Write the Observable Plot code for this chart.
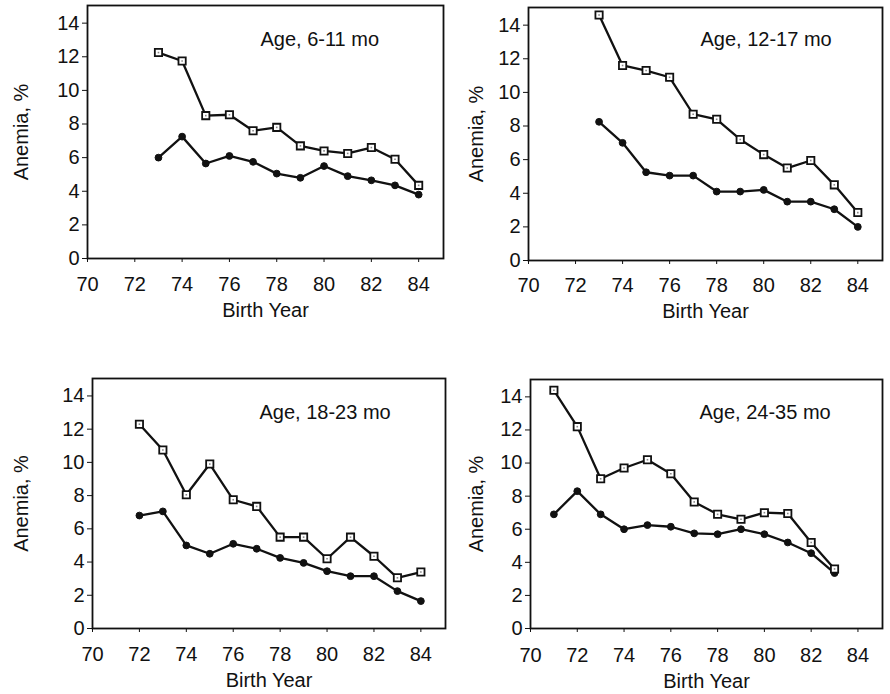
<!DOCTYPE html>
<html><head><meta charset="utf-8">
<script src="https://cdn.jsdelivr.net/npm/d3@7"></script>
<script src="https://cdn.jsdelivr.net/npm/@observablehq/plot@0.6"></script>
<style>
body{margin:0;background:#fff}
#wrap{position:relative;width:890px;height:694px;overflow:hidden;background:#fff}
.p{position:absolute}
</style>
</head><body><div id="wrap"></div>
<script>
// ---- data ----
const ageLabels = ["Age, 6-11 mo", "Age, 12-17 mo", "Age, 18-23 mo", "Age, 24-35 mo"];
const xTickLabels = [70, 72, 74, 76, 78, 80, 82, 84];
const yTickLabels = [0, 2, 4, 6, 8, 10, 12, 14];
const xTitle = "Birth Year";
const yTitle = "Anemia, %";

const years611 = [73, 74, 75, 76, 77, 78, 79, 80, 81, 82, 83, 84];
const open611  = [12.25, 11.75, 8.5, 8.55, 7.6, 7.8, 6.7, 6.4, 6.25, 6.6, 5.9, 4.35];
const solid611 = [6.0, 7.25, 5.65, 6.1, 5.75, 5.05, 4.8, 5.5, 4.9, 4.65, 4.35, 3.8];

const years1217 = [73, 74, 75, 76, 77, 78, 79, 80, 81, 82, 83, 84];
const open1217  = [14.6, 11.6, 11.3, 10.9, 8.7, 8.4, 7.2, 6.3, 5.5, 5.95, 4.5, 2.85];
const solid1217 = [8.25, 7.0, 5.25, 5.05, 5.05, 4.1, 4.1, 4.2, 3.5, 3.5, 3.05, 2.0];

const years1823 = [72, 73, 74, 75, 76, 77, 78, 79, 80, 81, 82, 83, 84];
const open1823  = [12.3, 10.75, 8.05, 9.9, 7.75, 7.35, 5.5, 5.5, 4.2, 5.5, 4.35, 3.05, 3.4];
const solid1823 = [6.8, 7.05, 5.0, 4.5, 5.1, 4.8, 4.25, 3.95, 3.45, 3.15, 3.15, 2.25, 1.65];

const years2435 = [71, 72, 73, 74, 75, 76, 77, 78, 79, 80, 81, 82, 83];
const open2435  = [14.4, 12.2, 9.05, 9.7, 10.2, 9.35, 7.65, 6.9, 6.6, 7.0, 6.95, 5.2, 3.6];
const solid2435 = [6.9, 8.3, 6.9, 6.0, 6.25, 6.15, 5.75, 5.7, 6.0, 5.7, 5.2, 4.55, 3.35];

// ---- layout (not data) ----
const panels = [
  {years: years611,  open: open611,  solid: solid611,  label: ageLabels[0],
   left: 0,   top: 0,   width: 445, height: 330, mL: 87, mR: 2, mT: 5,  mB: 72, yOff: 74, xOff: 58, xPad: 14, tdx: 173, tdy: 34},
  {years: years1217, open: open1217, solid: solid1217, label: ageLabels[1],
   left: 445, top: 0,   width: 445, height: 330, mL: 83, mR: 8, mT: 7,  mB: 70, yOff: 60, xOff: 57, xPad: 13, tdx: 172, tdy: 32},
  {years: years1823, open: open1823, solid: solid1823, label: ageLabels[2],
   left: 0,   top: 360, width: 447, height: 334, mL: 92, mR: 2, mT: 18, mB: 66, yOff: 79, xOff: 58, xPad: 14, tdx: 167, tdy: 34},
  {years: years2435, open: open2435, solid: solid2435, label: ageLabels[3],
   left: 445, top: 360, width: 445, height: 334, mL: 85, mR: 8, mT: 19, mB: 66, yOff: 62, xOff: 59, xPad: 15, tdx: 169, tdy: 33}
];

const wrap = document.getElementById("wrap");
const font = "'Liberation Sans', Arial, Helvetica, sans-serif";

for (const p of panels) {
  const openRows = p.years.map((yr, i) => ({year: yr, value: p.open[i]}));
  const solidRows = p.years.map((yr, i) => ({year: yr, value: p.solid[i]}));
  const chart = Plot.plot({
    width: p.width,
    height: p.height,
    marginLeft: p.mL, marginRight: p.mR, marginTop: p.mT, marginBottom: p.mB,
    style: {fontFamily: font, fontSize: "20px", color: "#111", background: "transparent"},
    x: {domain: [70, 85.05], ticks: xTickLabels, tickSize: 4, tickPadding: p.xPad,
        label: xTitle, labelAnchor: "center", labelOffset: p.xOff, labelArrow: "none"},
    y: {domain: [0, 15.05], ticks: yTickLabels, tickSize: 5, tickPadding: 3,
        label: yTitle, labelAnchor: "center", labelOffset: p.yOff, labelArrow: "none"},
    marks: [
      Plot.frame({stroke: "#111", strokeWidth: 1.8}),
      Plot.line(openRows, {x: "year", y: "value", stroke: "#111", strokeWidth: 2.3}),
      Plot.line(solidRows, {x: "year", y: "value", stroke: "#111", strokeWidth: 2.3}),
      Plot.dot(solidRows, {x: "year", y: "value", symbol: "circle", r: 3.4, fill: "#111", stroke: "#111", strokeWidth: 1}),
      Plot.dot(openRows, {x: "year", y: "value", symbol: "square", r: 4.1, fill: "#fff", stroke: "#111", strokeWidth: 1.8}),
      Plot.dot(openRows, {x: "year", y: "value", symbol: "square", r: 0.9, fill: "#888", stroke: "none"}),
      Plot.text([p.label], {text: d => d, frameAnchor: "top-left", dx: p.tdx, dy: p.tdy,
        textAnchor: "start", lineAnchor: "middle", fontSize: 20, fill: "#111"})
    ]
  });
  const div = document.createElement("div");
  div.className = "p";
  div.style.left = p.left + "px";
  div.style.top = p.top + "px";
  div.appendChild(chart);
  wrap.appendChild(div);
}
</script>
</body></html>
